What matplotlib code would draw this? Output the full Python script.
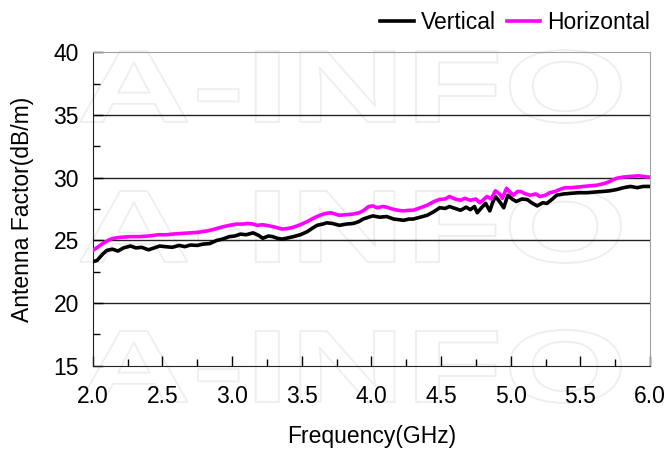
import matplotlib
matplotlib.use('Agg')
import matplotlib.pyplot as plt
from matplotlib.textpath import TextPath
from matplotlib.patches import PathPatch
from matplotlib.font_manager import FontProperties
from matplotlib.transforms import Affine2D
from matplotlib.ticker import MultipleLocator, FormatStrFormatter

freq_v = [2.00, 2.03, 2.07, 2.10, 2.14, 2.18, 2.22, 2.27, 2.31, 2.35, 2.40, 2.44, 2.48, 2.52,
          2.57, 2.62, 2.66, 2.70, 2.75, 2.79, 2.84, 2.89, 2.93, 2.98, 3.02, 3.06, 3.10, 3.15,
          3.19, 3.22, 3.26, 3.29, 3.33, 3.36, 3.40, 3.44, 3.49, 3.54, 3.58, 3.61, 3.65, 3.68,
          3.72, 3.77, 3.82, 3.87, 3.91, 3.94, 3.98, 4.01, 4.06, 4.11, 4.16, 4.20, 4.23, 4.27,
          4.30, 4.35, 4.40, 4.45, 4.49, 4.53, 4.56, 4.60, 4.64, 4.68, 4.71, 4.74, 4.76, 4.79,
          4.82, 4.85, 4.87, 4.89, 4.92, 4.95, 4.98, 5.01, 5.04, 5.08, 5.12, 5.15, 5.19, 5.23,
          5.26, 5.30, 5.33, 5.38, 5.43, 5.49, 5.55, 5.60, 5.66, 5.71, 5.76, 5.81, 5.86, 5.91,
          5.95, 6.00]
vertical = [23.3, 23.4, 23.9, 24.2, 24.3, 24.15, 24.4, 24.55, 24.4, 24.45, 24.25, 24.4, 24.55, 24.5,
            24.45, 24.6, 24.5, 24.63, 24.6, 24.7, 24.75, 25.0, 25.1, 25.3, 25.35, 25.5, 25.45, 25.6,
            25.4, 25.17, 25.35, 25.3, 25.15, 25.1, 25.2, 25.3, 25.45, 25.7, 26.0, 26.2, 26.3, 26.4,
            26.35, 26.2, 26.3, 26.35, 26.5, 26.7, 26.85, 26.95, 26.85, 26.9, 26.7, 26.65, 26.6, 26.7,
            26.7, 26.85, 27.0, 27.3, 27.6, 27.55, 27.7, 27.55, 27.4, 27.65, 27.45, 27.7, 27.2, 27.6,
            27.95, 27.35, 28.0, 28.5, 28.1, 27.6, 28.6, 28.3, 28.1, 28.3, 28.25, 28.0, 27.75, 28.0,
            27.95, 28.3, 28.6, 28.7, 28.75, 28.8, 28.8, 28.85, 28.9, 28.95, 29.05, 29.2, 29.3, 29.2,
            29.3, 29.3]

freq_h = [2.00, 2.04, 2.07, 2.11, 2.14, 2.20, 2.27, 2.33, 2.40, 2.47, 2.53, 2.57, 2.63, 2.70,
          2.76, 2.82, 2.86, 2.89, 2.94, 2.98, 3.03, 3.08, 3.11, 3.15, 3.18, 3.22, 3.27, 3.31,
          3.36, 3.40, 3.44, 3.49, 3.54, 3.58, 3.63, 3.67, 3.71, 3.74, 3.77, 3.82, 3.87, 3.91,
          3.94, 3.98, 4.01, 4.04, 4.08, 4.11, 4.15, 4.19, 4.23, 4.27, 4.30, 4.35, 4.40, 4.45,
          4.49, 4.53, 4.56, 4.60, 4.64, 4.67, 4.71, 4.75, 4.78, 4.81, 4.83, 4.86, 4.89, 4.92,
          4.94, 4.97, 5.00, 5.02, 5.05, 5.07, 5.11, 5.14, 5.18, 5.21, 5.25, 5.28, 5.32, 5.35,
          5.39, 5.43, 5.48, 5.52, 5.57, 5.62, 5.66, 5.69, 5.73, 5.76, 5.81, 5.86, 5.92, 5.98,
          6.00]
horizontal = [24.2, 24.5, 24.75, 25.0, 25.15, 25.25, 25.3, 25.3, 25.35, 25.45, 25.45, 25.5, 25.55, 25.6,
              25.65, 25.75, 25.85, 25.95, 26.1, 26.2, 26.3, 26.3, 26.35, 26.3, 26.2, 26.25, 26.15, 26.05,
              25.9, 25.95, 26.05, 26.25, 26.5, 26.75, 27.0, 27.15, 27.2, 27.1, 27.0, 27.05, 27.1, 27.2,
              27.35, 27.7, 27.75, 27.6, 27.7, 27.65, 27.5, 27.4, 27.35, 27.4, 27.4, 27.6, 27.8, 28.1,
              28.27, 28.3, 28.5, 28.3, 28.2, 28.35, 28.2, 28.3, 28.0, 28.3, 28.5, 28.3, 28.95, 28.7,
              28.35, 29.15, 28.8, 28.6, 28.9, 28.9, 28.7, 28.6, 28.7, 28.5, 28.6, 28.8, 28.9, 29.05,
              29.2, 29.2, 29.25, 29.3, 29.35, 29.4, 29.5, 29.6, 29.8, 29.95, 30.05, 30.1, 30.15, 30.05,
              30.05]

plt.rcParams['font.family'] = ['Liberation Sans', 'DejaVu Sans']
FS = 16.5

fig = plt.figure(figsize=(6.68, 4.5), dpi=100)
ax = fig.add_axes([0.139, 0.187, 0.834, 0.697])

# faint "A-INFO" watermark, three rows
fp = FontProperties(family='Liberation Sans', weight='bold')
tp = TextPath((0, 0), 'A-INFO', size=100, prop=fp)
bb = tp.get_extents()
for top in (50, 190, 330):
    x0, x1, y0, y1 = 80, 621, 450 - top - 73, 450 - top
    tr = (Affine2D().translate(-bb.x0, -bb.y0)
          .scale((x1 - x0) / bb.width, (y1 - y0) / bb.height)
          .translate(x0, y0))
    fig.patches.append(PathPatch(tr.transform_path(tp), facecolor='none',
                                 edgecolor='#eeeeee', lw=1.3, zorder=-5))

ax.patch.set_alpha(0)
ax.plot(freq_v, vertical, color='black', lw=2.6, label='Vertical', zorder=3)
ax.plot(freq_h, horizontal, color='#ff00ff', lw=2.6, label='Horizontal', zorder=3)

ax.set_xlim(2.0, 6.0)
ax.set_ylim(15, 40)
ax.xaxis.set_major_locator(MultipleLocator(0.5))
ax.xaxis.set_minor_locator(MultipleLocator(0.25))
ax.yaxis.set_major_locator(MultipleLocator(5))
ax.yaxis.set_minor_locator(MultipleLocator(2.5))
ax.xaxis.set_major_formatter(FormatStrFormatter('%.1f'))
ax.tick_params(which='major', direction='in', length=7, width=1, labelsize=FS)
ax.tick_params(which='minor', direction='in', length=5, width=1)
ax.tick_params(axis='x', which='major', pad=14)
ax.tick_params(axis='y', which='major', pad=10)

for y in (20, 25, 30, 35):
    ax.axhline(y, color='#222222', lw=1, zorder=1)
for s in ('top', 'right'):
    ax.spines[s].set_color('#a0a0a0')
for s in ('left', 'bottom'):
    ax.spines[s].set_color('#222222')

ax.set_xlabel('Frequency(GHz)', fontsize=FS)
ax.set_ylabel('Antenna Factor(dB/m)', fontsize=FS)
ax.xaxis.set_label_coords(0.5, -0.226)
ax.xaxis.label.set_va('center')
ax.yaxis.set_label_coords(-0.127, 0.5)
ax.yaxis.label.set_va('center')

ax.legend(loc='center right', bbox_to_anchor=(1.0, 1.096), ncol=2, frameon=False,
          fontsize=FS, handlelength=1.45, handletextpad=0.3, columnspacing=0.5,
          borderpad=0.0, borderaxespad=0.0)

fig.savefig('out.png', dpi=100)
